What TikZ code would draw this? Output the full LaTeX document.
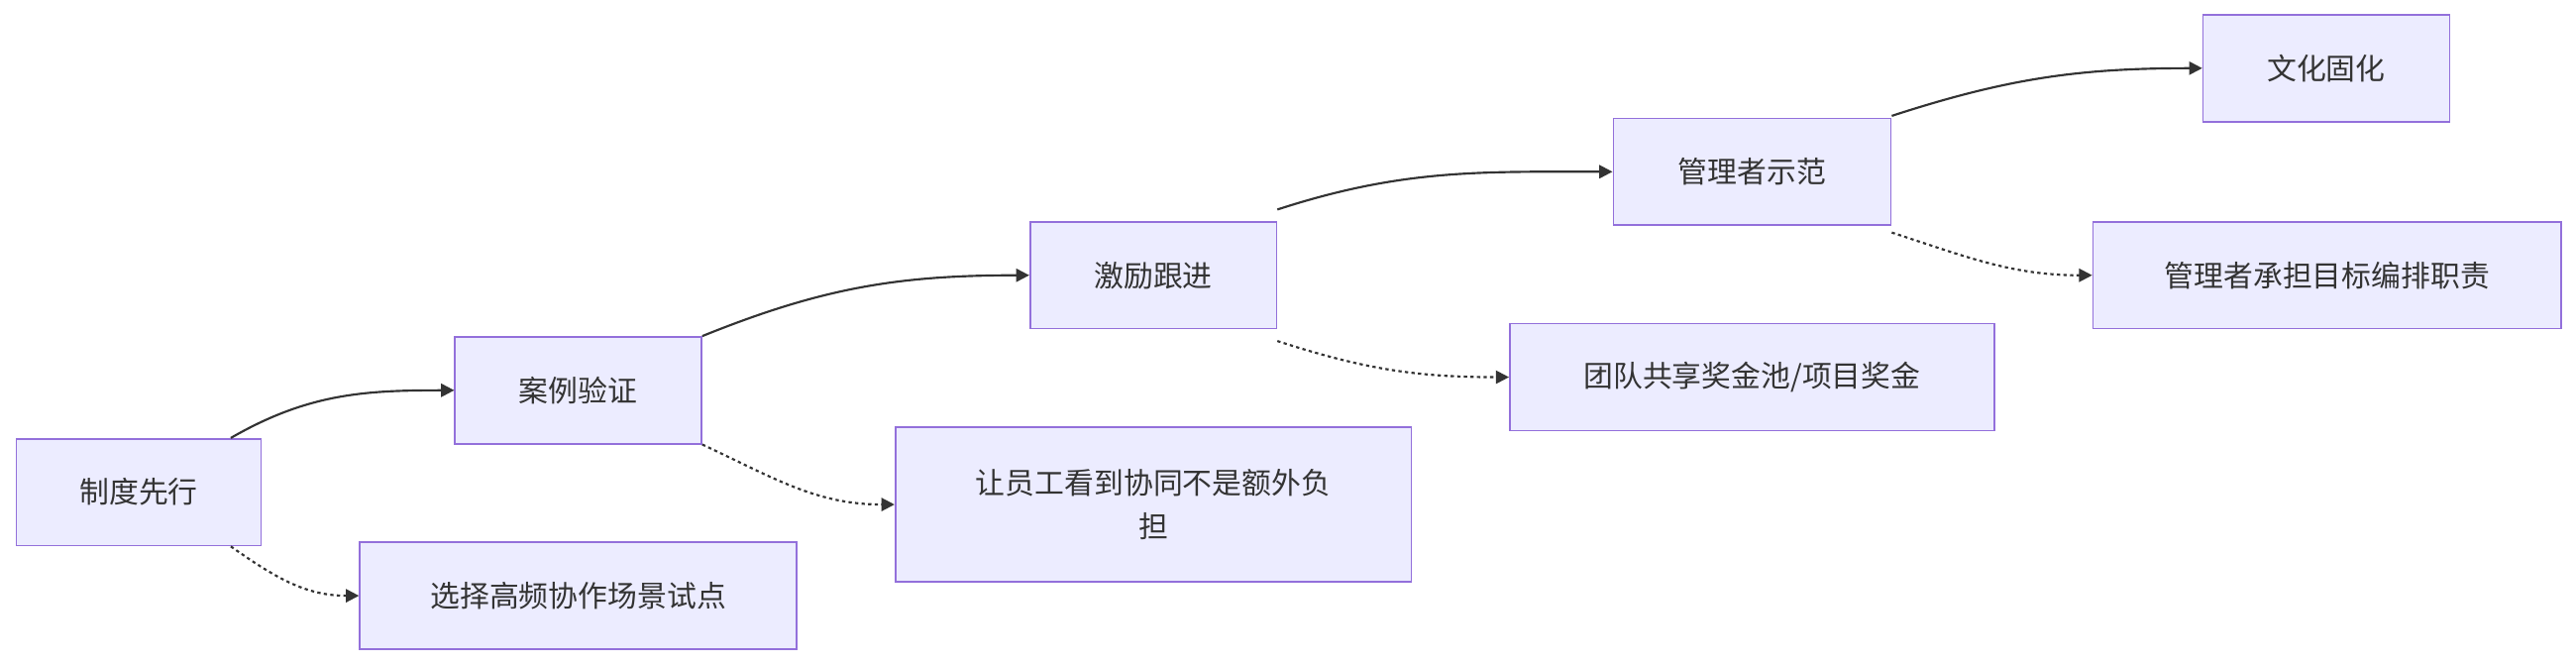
\documentclass[tikz,border=0pt]{standalone}
\usepackage{fontspec}
\setmainfont{Noto Sans CJK SC}
\usetikzlibrary{arrows.meta}
\definecolor{boxfill}{HTML}{ECECFF}
\definecolor{boxline}{HTML}{9370DB}
\definecolor{edgec}{HTML}{333333}
\definecolor{textc}{HTML}{333333}
\begin{document}
\begin{tikzpicture}[x=1pt,y=-1pt,
  box/.style={draw=boxline,fill=boxfill,line width=1pt,inner sep=0pt,font=\fontsize{18}{26}\selectfont,text=textc,align=center},
  solidedge/.style={draw=edgec,line width=1.3pt,-{Triangle[length=8pt,width=8pt]}},
  dotedge/.style={draw=edgec,line width=1.3pt,dash pattern=on 2pt off 2pt,-{Triangle[length=8pt,width=8pt]}}]
\useasboundingbox (0,0) rectangle (1568,405);
\node[box,minimum width=149pt,minimum height=65pt] (a) at (84.5,299.5) {制度先行};
\node[box,minimum width=150pt,minimum height=65pt] (b) at (352,237.5) {案例验证};
\node[box,minimum width=266pt,minimum height=65pt] (c) at (352,362.5) {选择高频协作场景试点};
\node[box,minimum width=150pt,minimum height=65pt] (d) at (702,167.5) {激励跟进};
\node[box,minimum width=314pt,minimum height=94pt] (e) at (702,307) {让员工看到协同不是额外负\\担};
\node[box,minimum width=169pt,minimum height=65pt] (f) at (1066.5,104.5) {管理者示范};
\node[box,minimum width=295pt,minimum height=65pt] (g) at (1066.5,229.5) {团队共享奖金池/项目奖金};
\node[box,minimum width=150pt,minimum height=65pt] (h) at (1416,41.5) {文化固化};
\node[box,minimum width=285pt,minimum height=65pt] (i) at (1416.5,167.5) {管理者承担目标编排职责};
\draw[solidedge] ([xshift=-19pt]a.north east) to[out=30,in=180] (b.west);
\draw[dotedge] ([xshift=-19pt]a.south east) to[out=-35,in=180] (c.west);
\draw[solidedge] (b.north east) to[out=22,in=180] (d.west);
\draw[dotedge] (b.south east) to[out=-25,in=180] (e.west);
\draw[solidedge] ([yshift=7pt]d.north east) to[out=18,in=180] (f.west);
\draw[dotedge] ([yshift=-7pt]d.south east) to[out=-18,in=180] (g.west);
\draw[solidedge] ([yshift=1pt]f.north east) to[out=18,in=180] (h.west);
\draw[dotedge] ([yshift=-4pt]f.south east) to[out=-18,in=180] (i.west);
\end{tikzpicture}
\end{document}
